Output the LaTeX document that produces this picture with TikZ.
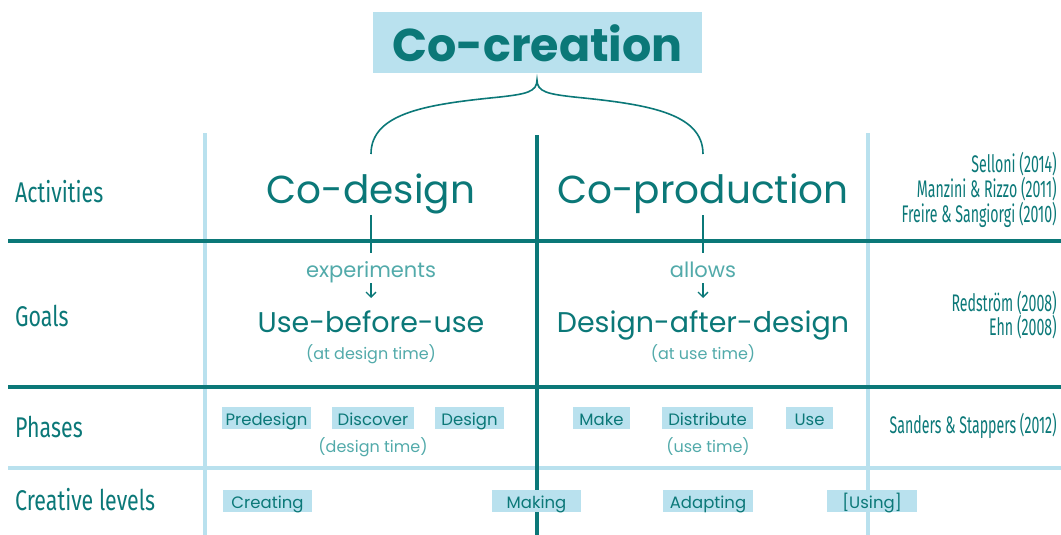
\documentclass[tikz,border=0pt]{standalone}
\usepackage{fontspec}
\usetikzlibrary{arrows.meta}
\setmainfont{Poppins}
\newfontfamily\condfont[FakeStretch=0.75]{Fira Sans}
\newfontfamily\reffont[FakeStretch=0.59]{Fira Sans}
\definecolor{teal1}{HTML}{0B7878}
\definecolor{lblue}{HTML}{B9E1EE}
\definecolor{lteal}{HTML}{52AAAA}
\begin{document}
\begin{tikzpicture}[x=1pt,y=-1pt,
  darkline/.style={draw=teal1,line width=3.2pt},
  lightline/.style={draw=lblue,line width=4pt},
  rowlabel/.style={anchor=base west,inner sep=0pt,text=teal1,font=\condfont\fontsize{28.5}{30}\selectfont},
  refs/.style={anchor=base east,inner sep=0pt,text=teal1,font=\reffont\fontsize{24}{26}\selectfont},
  big/.style={anchor=base,inner sep=0pt,text=teal1,font=\fontsize{39}{44}\selectfont},
  mid/.style={anchor=base,inner sep=0pt,text=teal1,font=\fontsize{28.5}{30}\selectfont},
  small/.style={anchor=base,inner sep=0pt,text=lteal,font=\fontsize{21}{22}\selectfont},
  note/.style={anchor=base,inner sep=0pt,text=lteal,font=\fontsize{16}{18}\selectfont},
  tag/.style={anchor=base,fill=lblue,text=teal1,inner xsep=0pt,inner ysep=0pt,
    text height=18.5pt,text depth=3.5pt,font=\fontsize{16.5}{18}\selectfont},
  downarrow/.style={teal1,line width=1.3pt,-{Straight Barb[length=5pt,width=10pt]}}
]
\useasboundingbox (0,0) rectangle (1061,535);
% title
\node[anchor=base,fill=lblue,minimum width=329pt,inner xsep=0pt,inner ysep=11pt,
  text height=39pt,text depth=0pt,text=teal1,
  font=\bfseries\fontsize{46}{50}\selectfont] (title) at (537.5,62) {Co-creation};
% grid lines
\coordinate (cTop) at (537,135);
\coordinate (cBot) at (537,535);
\coordinate (lTop) at (205,133);
\coordinate (lBot) at (205,535);
\coordinate (rTop) at (868,133);
\coordinate (rBot) at (868,535);
\coordinate (h1a) at (8,241); \coordinate (h1b) at (1061,241);
\coordinate (h2a) at (8,387); \coordinate (h2b) at (1061,387);
\coordinate (h3a) at (8,467.5); \coordinate (h3b) at (1061,467.5);
\draw[lightline] (lTop) -- (lBot);
\draw[lightline] (rTop) -- (rBot);
\draw[lightline] (h3a) -- (h3b);
\draw[darkline] (h1a) -- (h1b);
\draw[darkline] (h2a) -- (h2b);
\draw[darkline] (cTop) -- (cBot);
% brace
\coordinate (bTip) at (537,80);
\coordinate (bL) at (371,154);
\coordinate (bR) at (703,154);
\draw[teal1,line width=1.6pt] (bL) .. controls (371,112) and (430,104) .. (500,97)
  .. controls (526,94) and (537,92) .. (bTip)
  .. controls (537,92) and (548,94) .. (574,97)
  .. controls (644,104) and (703,112) .. (bR);
% activities
\node[big] (codesign) at (371,203) {Co-design};
\node[big] (coprod) at (703,203) {Co-production};
\coordinate (s1a) at (371,215); \coordinate (s1b) at (371,253);
\coordinate (s2a) at (703,215); \coordinate (s2b) at (703,253);
\draw[teal1,line width=1.4pt] (s1a) -- (s1b);
\draw[teal1,line width=1.4pt] (s2a) -- (s2b);
% goals
\node[small] (exp) at (371,277) {experiments};
\node[small] (allows) at (703,277) {allows};
\node[mid] (ubu) at (371,332) {Use-before-use};
\node[mid] (dad) at (703,332) {Design-after-design};
\coordinate (a1a) at (371,283); \coordinate (a1b) at (371,298);
\coordinate (a2a) at (703,283); \coordinate (a2b) at (703,298);
\draw[downarrow] (a1a) -- (a1b);
\draw[downarrow] (a2a) -- (a2b);
\node[note] (adt) at (371,359) {(at design time)};
\node[note] (aut) at (703,359) {(at use time)};
% row labels
\node[rowlabel] (act) at (15,202) {Activities};
\node[rowlabel] (goals) at (15,326) {Goals};
\node[rowlabel] (phases) at (15,437) {Phases};
\node[rowlabel] (clev) at (15,510) {Creative levels};
% references
\node[refs] (r1) at (1057,172) {Selloni (2014)};
\node[refs] (r2) at (1057,197) {Manzini \& Rizzo (2011)};
\node[refs] (r3) at (1057,222) {Freire \& Sangiorgi (2010)};
\node[refs] (r4) at (1057,311) {Redström (2008)};
\node[refs] (r5) at (1057,335) {Ehn (2008)};
\node[refs] (r6) at (1057,433) {Sanders \& Stappers (2012)};
% phases
\node[tag,minimum width=89pt] (pre) at (266.5,425) {Predesign};
\node[tag,minimum width=82pt] (disc) at (373,425) {Discover};
\node[tag,minimum width=69pt] (des) at (469.5,425) {Design};
\node[note] (dt) at (373,452) {(design time)};
\node[tag,minimum width=57pt] (make) at (601.5,425) {Make};
\node[tag,minimum width=91pt] (dist) at (707.5,425) {Distribute};
\node[tag,minimum width=47pt] (use) at (809.5,425) {Use};
\node[note] (ut) at (708,452) {(use time)};
% creative levels
\node[tag,minimum width=89pt] (creat) at (267.5,508) {Creating};
\node[tag,minimum width=89pt] (mak) at (536.5,508) {Making};
\node[tag,minimum width=90pt] (adap) at (708,508) {Adapting};
\node[tag,minimum width=90pt] (using) at (872,508) {[Using]};
\end{tikzpicture}
\end{document}
